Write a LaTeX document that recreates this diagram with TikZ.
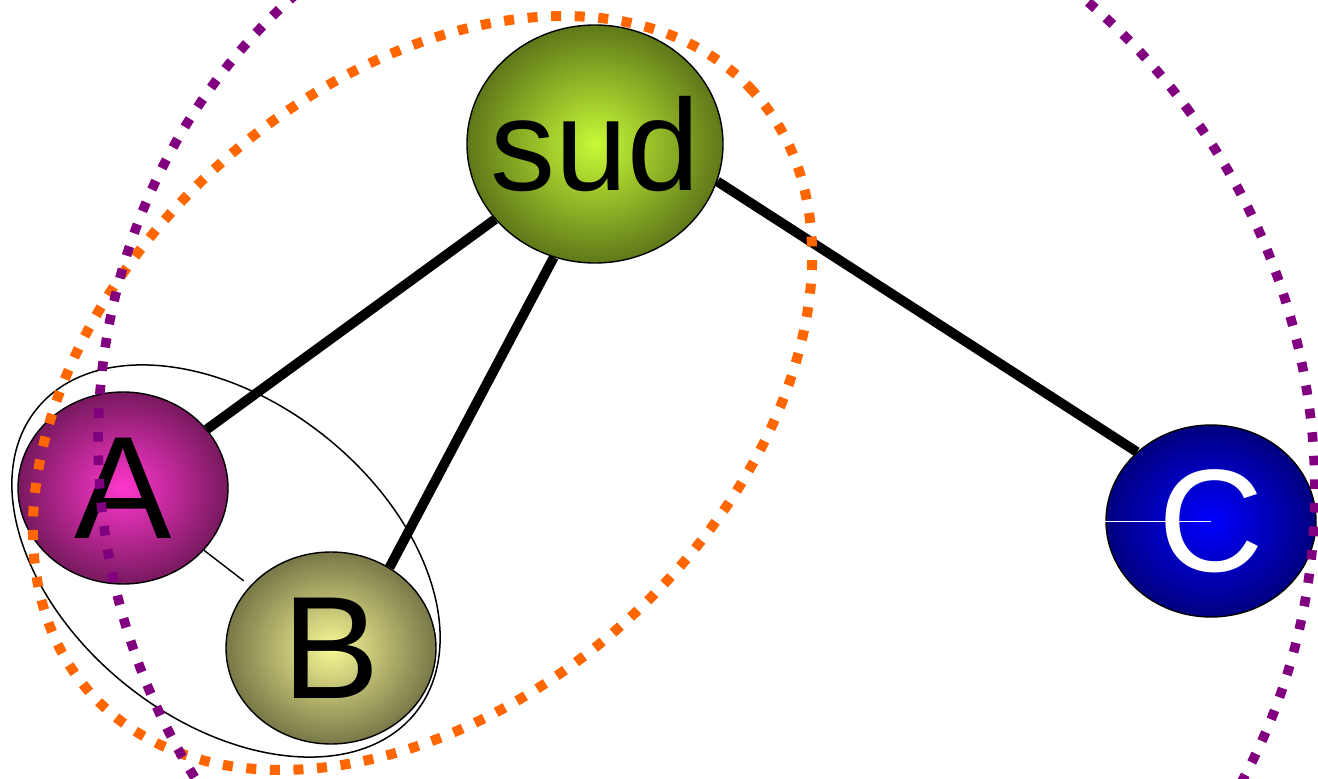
\documentclass[tikz,border=0pt]{standalone}
\usepackage{fontspec}
\setmainfont{Liberation Sans}
\usetikzlibrary{shapes.geometric}

\definecolor{sudin}{RGB}{200,250,55}
\definecolor{sudout}{RGB}{95,120,25}
\definecolor{ain}{RGB}{255,55,205}
\definecolor{aout}{RGB}{120,25,95}
\definecolor{bin}{RGB}{248,248,150}
\definecolor{bout}{RGB}{120,120,72}
\definecolor{cin}{RGB}{0,0,255}
\definecolor{cout}{RGB}{0,0,128}
\definecolor{ringorange}{RGB}{255,102,0}
\definecolor{ringpurple}{RGB}{128,0,128}

\begin{document}
\begin{tikzpicture}[x=0.5pt,y=0.5pt,
  ball/.style={ellipse, draw=black, line width=0.7pt, inner sep=0pt,
    minimum width=105pt, minimum height=96pt,
    font=\fontsize{73}{73}\selectfont},
  link/.style={line width=4.9pt},
  pairline/.style={line width=0.7pt, shorten >=4pt},
  pairring/.style={line width=0.75pt},
  orangering/.style={draw=ringorange, line width=5pt, dash pattern=on 5pt off 6.8pt},
  purplering/.style={draw=ringpurple, line width=4.8pt, dash pattern=on 4.8pt off 7pt}]

  \useasboundingbox (0,0) rectangle (1318,778);
  \clip (0,0) rectangle (1318,778);

  %% the four balls
  \node[ball, minimum width=128pt, minimum height=119pt,
    font=\fontsize{65}{65}\selectfont,
    inner color=sudin, outer color=sudout] (sud) at (595,634) {\makebox[0pt]{sud}};
  \node[ball, inner color=ain, outer color=aout] (A) at (123,290) {A};
  \node[ball, inner color=bin, outer color=bout] (B) at (331,130) {B};
  \node[ball, inner color=cin, outer color=cout, text=white] (C) at (1211,257) {C};

  \draw[white, line width=0.5pt] (C.west) -- (C.center);

  %% links
  \draw[link] (sud.-143) -- (A.35);  %% sud -- A
  \draw[link] (sud.-110) -- (B.54);  %% sud -- B
  \draw[link] (sud.-17) -- (C.137);  %% sud -- C
  \draw[pairline] (A) -- (B);

  %% groups
  \draw[pairring, rotate around={-38.65:(226,217)}]
    (226,217) ellipse [x radius=121.4pt, y radius=79.6pt];
  \draw[orangering, rotate around={42.4:(422.5,385)}]
    (422.5,385) ellipse [x radius=223.8pt, y radius=152.9pt];
  \draw[purplering, rotate around={36.1:(706.5,312)}]
    (706.5,312) ellipse [x radius=299.5pt, y radius=312.8pt];

\end{tikzpicture}
\end{document}
